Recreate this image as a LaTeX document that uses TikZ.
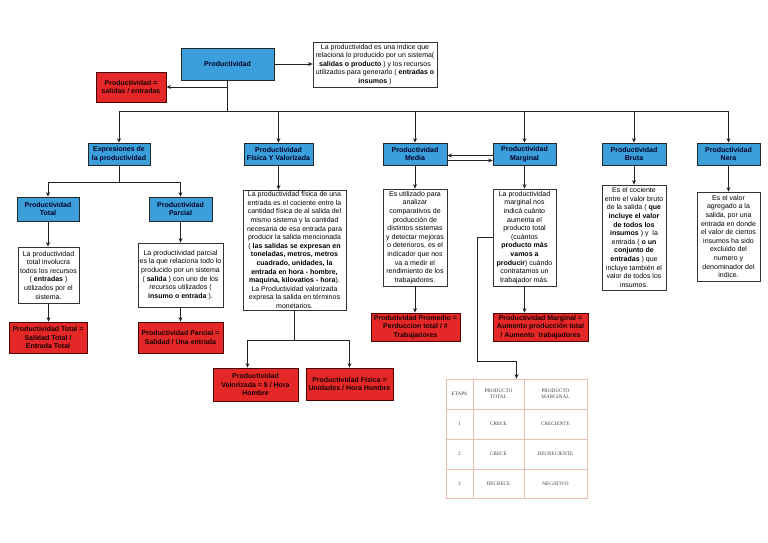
\documentclass[tikz,border=0pt]{standalone}
\usepackage{fontspec}
\setmainfont{Liberation Sans}
\newfontfamily\tabfont{Liberation Serif}
\usetikzlibrary{arrows.meta}
\definecolor{bluef}{HTML}{3A9FDA}
\definecolor{redf}{HTML}{E42828}
\definecolor{lnk}{HTML}{222222}
\definecolor{tabl}{HTML}{E8BFAE}
\definecolor{tabt}{HTML}{444444}
\tikzset{
 base/.style={draw, line width=0.8pt, inner sep=0pt, align=center, font=\fontsize{7}{8.6}\selectfont},
 bluebox/.style={base, fill=bluef, draw=black!85, text=blue!15!black, font=\bfseries\fontsize{7}{8.6}\selectfont},
 redbox/.style={base, fill=redf, draw=red!30!black, text=red!10!black, font=\bfseries\fontsize{7}{8.6}\selectfont},
 descbox/.style={base, fill=white, draw=black!80, text=black},
 arr/.style={draw=lnk, line width=0.8pt, -{Stealth[length=4.5pt,width=4pt]}},
 ln/.style={draw=lnk, line width=0.8pt},
 tabcell/.style={inner sep=0pt, align=center, text=tabt, font=\tabfont\fontsize{5.2}{6}\selectfont},
 tabline/.style={draw=tabl, line width=0.7pt},
}
\newcommand\mybox[7]{%
 \node[#1, minimum width={(#5-#3)*1pt}, minimum height={(#6-#4)*1pt}] (#2) at ({(#3+#5)/2},{(#4+#6)/2}) {#7};}
\begin{document}
\begin{tikzpicture}[x=1pt,y=-1pt]
\fill[white] (0,0) rectangle (768,543);
\useasboundingbox (0,0) rectangle (768,543);

% top
\mybox{bluebox}{prod}{181}{48}{274}{80}{Productividad}
\mybox{descbox}{pdesc}{313}{42}{437}{87}{La productividad es una indice que\\relaciona lo producido por un sistema(\\\textbf{salidas o producto} ) y los recursos\\utilizados para generarlo ( \textbf{entradas o}\\\textbf{insumos} )}
\mybox{redbox}{pred}{96}{72}{166}{102}{Productividad =\\salidas / entradas}

% second level
\mybox{bluebox}{exp}{88}{143}{150}{165}{Expresiones de\\la productividad}
\mybox{bluebox}{fis}{244}{143}{313}{165}{Productividad\\Física Y Valorizada}
\mybox{bluebox}{med}{383}{143}{447}{165}{Productividad\\Media}
\mybox{bluebox}{mrg}{493}{143}{556}{165}{Productividad\\Marginal}
\mybox{bluebox}{bru}{602}{143}{666}{165}{Productividad\\Bruta}
\mybox{bluebox}{ner}{697}{143}{760}{165}{Productividad\\Nera}

% Expresiones subtree
\mybox{bluebox}{tot}{17}{197}{79}{221}{Productividad\\Total}
\mybox{bluebox}{par}{149}{197}{212}{221}{Productividad\\Parcial}
\mybox{descbox}{totd}{18}{247}{79}{303}{La productividad\\total involucra\\todos los recursos\\( \textbf{entradas} )\\utilizados por el\\sistema.}
\mybox{descbox}{pard}{138}{243}{223}{307}{La productividad parcial\\es la que relaciona todo lo\\producido por un sistema\\( \textbf{salida} ) con uno de los\\recursos utilizados (\\\textbf{insumo o entrada} ).}
\mybox{redbox}{totr}{9}{322}{87}{353}{Productividad Total =\\Salidad Total /\\Entrada Total}
\mybox{redbox}{parr}{138}{322}{223}{353}{Productividad Parcial =\\Salidad / Una entrada}

% Fisica subtree
\mybox{descbox}{fisd}{243}{190}{346}{310}{La productividad física de una\\entrada es el cociente entre la\\cantidad física de al salida del\\mismo sistema y la cantidad\\necesaria de esa entrada para\\producir la salida mencionada\\( \textbf{las salidas se expresan en}\\\textbf{toneladas, metros, metros}\\\textbf{cuadrado, unidades, la}\\\textbf{entrada en hora - hombre,}\\\textbf{maquina, kilovatios - hora}).\\La Productividad valorizada\\expresa la salida en términos\\monetarios.}
\mybox{redbox}{valr}{213}{368}{298}{401}{Productividad\\Valorizada = \$ / Hora\\Hombre}
\mybox{redbox}{fisr}{306}{368}{393}{400}{Productividad Física =\\Unidades / Hora Hombre}

% Media / Marginal
\mybox{descbox}{medd}{383}{189}{447}{286}{Es utilizado para\\analizar\\comparativos de\\producción de\\distintos sistemas\\y detectar mejoras\\o deterioros, es el\\indicador que nos\\va a medir el\\rendimiento de los\\trabajadores.}
\mybox{descbox}{mrgd}{493}{189}{556}{286}{La productividad\\marginal nos\\indicá cuánto\\aumenta el\\producto total\\(cuántos\\\textbf{producto más}\\\textbf{vamos a}\\\textbf{producir}) cuándo\\contratamos un\\trabajador más.}
\mybox{redbox}{medr}{371}{313}{460}{341}{Produtividad Promedio =\\Perduccion total / \#\\Trabajadores}
\mybox{redbox}{mrgr}{493}{313}{588}{341}{Productividad Marginal =\\Aumento producción total\\/ Aumento\ \ trabajadores}

% Bruta / Nera
\mybox{descbox}{brud}{602}{185}{666}{290}{Es el cociente\\entre el valor bruto\\de la salida ( \textbf{que}\\\textbf{incluye el valor}\\\textbf{de todos los}\\\textbf{insumos} ) y\ \ la\\entrada ( \textbf{o un}\\\textbf{conjunto de}\\\textbf{entradas} ) que\\incluye también el\\valor de todos los\\insumos.}
\mybox{descbox}{nerd}{697}{192}{760}{281}{Es el valor\\agregado a la\\salida, por una\\entrada en donde\\el valor de ciertos\\insumos ha sido\\excluido del\\numero y\\denominador del\\indice.}

% table
\node[tabline, draw, minimum width=141pt, minimum height=119pt, inner sep=0pt] (tbl) at (516.5,438.5) {};
\draw[tabline] (473,379) -- (473,498) (524,379) -- (524,498)
  (446,409) -- (587,409) (446,439) -- (587,439) (446,469) -- (587,469);
\node[tabcell] (t11) at (459.5,394) {ETAPA};
\node[tabcell] (t12) at (498.5,394) {PRODUCTO\\TOTAL};
\node[tabcell] (t13) at (555.5,394) {PRODUCTO\\MARGINAL};
\node[tabcell] (t21) at (459.5,424) {1};
\node[tabcell] (t22) at (498.5,424) {CRECE};
\node[tabcell] (t23) at (555.5,424) {CRECIENTE};
\node[tabcell] (t31) at (459.5,454) {2};
\node[tabcell] (t32) at (498.5,454) {CRECE};
\node[tabcell] (t33) at (555.5,454) {DECRECIENTE};
\node[tabcell] (t41) at (459.5,483.5) {3};
\node[tabcell] (t42) at (498.5,483.5) {DECRECE};
\node[tabcell] (t43) at (555.5,483.5) {NEGATIVO};

% connectors
\coordinate (bus) at (0,111);
\draw[arr] (prod.east) -- (pdesc.west |- prod.east);
\draw[ln] (prod.south) -- (prod.south |- bus);
\draw[arr] (prod.south |- pred.east) -- (pred.east);
\draw[ln] (exp.north |- bus) -- (ner.north |- bus);
\foreach \n in {exp,fis,med,mrg,bru,ner}{
  \draw[arr] (\n.north |- bus) -- (\n.north);
}
\draw[arr] (exp.south) -- ++(0,17) -| (tot.north);
\draw[arr] (exp.south) -- ++(0,17) -| (par.north);
\draw[arr] (tot.south) -- (tot.south |- totd.north);
\draw[arr] (par.south) -- (par.south |- pard.north);
\draw[arr] (totd.south) -- (totd.south |- totr.north);
\draw[arr] (pard.south) -- (parr.north);
\draw[arr] (fis.south) -- (fis.south |- fisd.north);
\draw[arr] (fisd.south) -- ++(0,30) -| ([xshift=-8pt]valr.north);
\draw[arr] (fisd.south) -- ++(0,30) -| (fisr.north);
\draw[arr] (med.south) -- (medd.north);
\draw[arr] (mrg.south) -- (mrgd.north);
\draw[arr] (medd.south) -- (medd.south |- medr.north);
\draw[arr] (mrgd.south) -- (mrgd.south |- mrgr.north);
\draw[arr] ([yshift=-1.5pt]mrg.west) -- ([yshift=-1.5pt]med.east);
\draw[arr] ([yshift=-6.5pt]med.east) -- ([yshift=-6.5pt]mrg.west);
\draw[arr] (mrgd.west) -| (477,361) -| (tbl.north);
\draw[arr] (bru.south) -- (brud.north);
\draw[arr] (ner.south) -- (nerd.north);
\end{tikzpicture}
\end{document}
